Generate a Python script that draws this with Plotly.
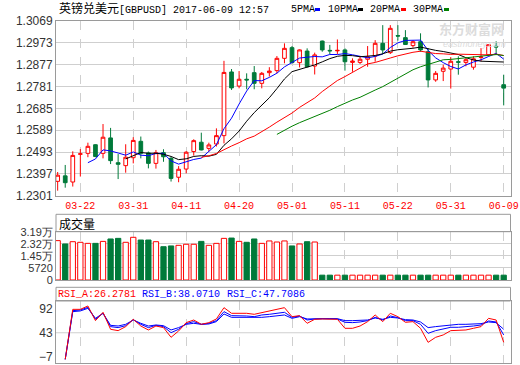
import plotly.graph_objects as go
import pandas as pd

# ---------------- data ----------------
dates = [
    "2017-03-17", "2017-03-20", "2017-03-21", "2017-03-22", "2017-03-23", "2017-03-24",
    "2017-03-27", "2017-03-28", "2017-03-29", "2017-03-30", "2017-03-31",
    "2017-04-03", "2017-04-04", "2017-04-05", "2017-04-06", "2017-04-07",
    "2017-04-10", "2017-04-11", "2017-04-12", "2017-04-13", "2017-04-14",
    "2017-04-17", "2017-04-18", "2017-04-19", "2017-04-20", "2017-04-21",
    "2017-04-24", "2017-04-25", "2017-04-26", "2017-04-27", "2017-04-28",
    "2017-05-01", "2017-05-02", "2017-05-03", "2017-05-04", "2017-05-05",
    "2017-05-09", "2017-05-10", "2017-05-11", "2017-05-12",
    "2017-05-15", "2017-05-16", "2017-05-17", "2017-05-18", "2017-05-19",
    "2017-05-22", "2017-05-23", "2017-05-24", "2017-05-25", "2017-05-26",
    "2017-05-29", "2017-05-30", "2017-05-31",
    "2017-06-01", "2017-06-02", "2017-06-05", "2017-06-06", "2017-06-07",
    "2017-06-08", "2017-06-09",
]
opens = [1.2364, 1.2388, 1.2361, 1.2483, 1.2487, 1.2525, 1.2487, 1.2555, 1.2446, 1.2433,
         1.2468, 1.2540, 1.2489, 1.2443, 1.2490, 1.2465, 1.2382, 1.2418, 1.2495, 1.2536,
         1.2509, 1.2528, 1.2565, 1.2845, 1.2783, 1.2813, 1.2842, 1.2795, 1.2842, 1.2851,
         1.2905, 1.2952, 1.2886, 1.2937, 1.2871, 1.2981, 1.2940, 1.2938, 1.2942, 1.2887,
         1.2887, 1.2901, 1.2915, 1.2971, 1.2930, 1.3005, 1.2996, 1.2961, 1.2978, 1.2934,
         1.2810, 1.2848, 1.2858, 1.2890, 1.2887, 1.2866, 1.2909, 1.2921, 1.2958, 1.2789]
highs = [1.2405, 1.2436, 1.2496, 1.2506, 1.2534, 1.2527, 1.2616, 1.2599, 1.2484, 1.2527,
         1.2558, 1.2561, 1.2495, 1.2502, 1.2505, 1.2473, 1.2431, 1.2497, 1.2549, 1.2578,
         1.2534, 1.2597, 1.2894, 1.2858, 1.2849, 1.2839, 1.2871, 1.2845, 1.2866, 1.2915,
         1.2971, 1.2959, 1.2944, 1.2949, 1.2930, 1.2983, 1.2964, 1.2988, 1.2949, 1.2905,
         1.2912, 1.2959, 1.2985, 1.3051, 1.3051, 1.3051, 1.3029, 1.2985, 1.3015, 1.2949,
         1.2849, 1.2877, 1.2910, 1.2914, 1.2911, 1.2914, 1.2950, 1.2968, 1.2980, 1.2833]
lows = [1.2323, 1.2336, 1.2341, 1.2385, 1.2470, 1.2470, 1.2465, 1.2440, 1.2374, 1.2402,
        1.2443, 1.2465, 1.2421, 1.2420, 1.2450, 1.2363, 1.2360, 1.2399, 1.2477, 1.2500,
        1.2495, 1.2517, 1.2531, 1.2766, 1.2773, 1.2769, 1.2769, 1.2773, 1.2825, 1.2839,
        1.2883, 1.2883, 1.2865, 1.2865, 1.2834, 1.2934, 1.2924, 1.2924, 1.2851, 1.2846,
        1.2880, 1.2868, 1.2890, 1.2924, 1.2924, 1.2983, 1.2964, 1.2952, 1.2934, 1.2777,
        1.2802, 1.2805, 1.2772, 1.2833, 1.2870, 1.2855, 1.2892, 1.2914, 1.2921, 1.2698]
closes = [1.2391, 1.2358, 1.2478, 1.2485, 1.2518, 1.2473, 1.2558, 1.2455, 1.2439, 1.2470,
          1.2544, 1.2487, 1.2443, 1.2490, 1.2472, 1.2377, 1.2417, 1.2492, 1.2543, 1.2502,
          1.2524, 1.2565, 1.2843, 1.2775, 1.2813, 1.2810, 1.2795, 1.2839, 1.2849, 1.2905,
          1.2949, 1.2886, 1.2942, 1.2868, 1.2920, 1.2942, 1.2938, 1.2940, 1.2890, 1.2893,
          1.2901, 1.2912, 1.2971, 1.2942, 1.3037, 1.3003, 1.2966, 1.2978, 1.2942, 1.2810,
          1.2839, 1.2862, 1.2892, 1.2888, 1.2899, 1.2903, 1.2911, 1.2965, 1.2955, 1.2774]
# volume in 万
volume_wan = [2.60, 2.38, 2.53, 2.49, 2.42, 2.42, 2.55, 2.71, 2.75, 2.49,
              2.82, 2.64, 2.64, 2.53, 2.20, 2.25, 2.29, 2.36, 2.36, 2.55,
              2.29, 2.42, 2.75, 2.77, 2.55, 2.49, 2.71, 2.42, 2.58, 2.51,
              2.58, 2.25, 2.38, 2.53, 2.51, 0.32, 0.32, 0.32, 0.32, 0.32,
              0.32, 0.32, 0.32, 0.32, 0.32, 0.32, 0.32, 0.32, 0.32, 0.32,
              0.32, 0.32, 0.32, 0.32, 0.32, 0.32, 0.32, 0.32, 0.32, 0.32]
rsi_a = [None, -12.5, 91.9, 91.9, 98.9, 68.3, 85.7, 50.2, 47.4, 55.8,
         71.1, 57.1, 48.8, 57.1, 53.7, 33.5, 46.7, 64.1, 69.6, 60.6,
         64.1, 71.8, 95.4, 83.6, 83.6, 83.6, 81.5, 85.0, 87.1, 90.5,
         95.4, 76.6, 78.7, 62.7, 71.1, 71.8, 71.1, 71.1, 52.3, 52.3,
         57.1, 66.2, 80.1, 66.2, 83.6, 76.6, 64.8, 66.2, 52.3, 23.0,
         33.5, 38.4, 47.4, 47.4, 48.8, 52.3, 55.8, 73.1, 69.6, 23.0]
rsi_b = [None, -12.5, 89.1, 90.5, 96.1, 71.1, 83.6, 55.8, 53.7, 57.8,
         70.4, 60.6, 53.7, 58.5, 55.8, 43.2, 50.2, 62.0, 66.2, 60.6,
         62.7, 68.3, 87.1, 78.7, 78.7, 78.0, 76.6, 80.1, 81.5, 83.6,
         85.7, 75.2, 78.0, 69.6, 71.8, 72.4, 71.8, 71.8, 64.8, 64.1,
         65.5, 68.3, 75.2, 69.6, 78.0, 74.5, 68.3, 68.3, 60.6, 41.8,
         47.4, 50.2, 54.4, 54.4, 55.0, 57.1, 59.2, 67.6, 65.5, 38.4]
rsi_c = [None, -12.5, 87.1, 88.5, 94.0, 73.1, 83.6, 58.5, 57.1, 60.6,
         69.6, 62.7, 57.1, 59.2, 57.8, 48.8, 53.7, 60.6, 62.7, 60.6,
         61.3, 66.2, 82.2, 75.2, 75.2, 74.5, 73.8, 75.2, 76.6, 78.0,
         80.1, 73.1, 76.6, 71.8, 72.4, 72.4, 72.4, 72.4, 68.3, 68.3,
         69.0, 69.6, 73.8, 71.1, 75.2, 73.8, 70.4, 69.6, 65.5, 53.7,
         55.8, 57.8, 59.9, 60.6, 60.6, 61.3, 62.0, 65.5, 64.1, 50.2]

price_ticks = [1.2301, 1.2397, 1.2493, 1.2589, 1.2685, 1.2781, 1.2877, 1.2973, 1.3069]
tick_dates = ["2017-03-22", "2017-03-31", "2017-04-11", "2017-04-20", "2017-05-01",
              "2017-05-11", "2017-05-22", "2017-05-31", "2017-06-09"]
vol_ticks = [0, 0.7975, 1.595, 2.3925, 3.19]
vol_tick_text = ["0", "5720", "1.45万", "2.32万", "3.19万"]
rsi_ticks = [92, 43, -7]
title_text = "英镑兑美元[GBPUSD] 2017-06-09 12:57"
rsi_labels = ["RSI_A:26.2781", "RSI_B:38.0710", "RSI_C:47.7086"]

# ---------------- derived ----------------
cs = pd.Series(closes)
def ma(n):
    return [None if pd.isna(v) else float(v) for v in cs.rolling(n).mean()]
ma5, ma10, ma20, ma30 = ma(5), ma(10), ma(20), ma(30)

RED = "#ff0000"
GREEN = "#007a3a"
BLUE = "#0000ff"
GRID = "#cfcfcf"
FRAME = "#9a9a9a"
TXT = "#333333"
W, H = 520, 365

def py(y):
    return 1 - y / H

def px(x):
    return x / W

xdom = [px(56), px(510.5)]
up = [c >= o for o, c in zip(opens, closes)]

fig = go.Figure()
fig.add_trace(go.Candlestick(
    x=dates, open=opens, high=highs, low=lows, close=closes,
    increasing=dict(line=dict(color=RED, width=1), fillcolor="#ffffff"),
    decreasing=dict(line=dict(color=GREEN, width=1), fillcolor=GREEN),
    whiskerwidth=0, xaxis="x", yaxis="y", showlegend=False, hoverinfo="skip"))
for vals, col in [(ma5, BLUE), (ma10, "#000000"), (ma20, RED), (ma30, "#008000")]:
    fig.add_trace(go.Scatter(x=dates, y=vals, mode="lines", line=dict(color=col, width=1),
                             xaxis="x", yaxis="y", showlegend=False, hoverinfo="skip"))

fig.add_trace(go.Bar(
    x=dates, y=volume_wan, width=0.7,
    marker=dict(color=["#ffffff" if u else GREEN for u in up],
                line=dict(color=[RED if u else GREEN for u in up], width=1)),
    xaxis="x2", yaxis="y2", showlegend=False, hoverinfo="skip"))

for vals, col in [(rsi_c, BLUE), (rsi_b, BLUE), (rsi_a, RED)]:
    fig.add_trace(go.Scatter(x=dates, y=vals, mode="lines", line=dict(color=col, width=1),
                             xaxis="x3", yaxis="y3", showlegend=False, hoverinfo="skip"))

xcommon = dict(type="category", range=[-0.22, 59.9], domain=xdom, automargin=False,
               tickvals=tick_dates, showgrid=True, gridcolor=GRID, griddash="dash",
               gridwidth=1, showline=True, mirror=True, linecolor=FRAME, linewidth=1,
               ticks="", zeroline=False, fixedrange=True)
ycommon = dict(showline=True, mirror=True, linecolor=FRAME, linewidth=1, ticks="",
               zeroline=False, gridcolor=GRID, gridwidth=1, fixedrange=True, automargin=False,
               tickfont=dict(family="Liberation Sans, Arial", size=12, color=TXT))

fig.update_layout(
    template="none",
    width=W, height=H, margin=dict(l=0, r=0, t=0, b=0, pad=0, autoexpand=False),
    paper_bgcolor="#ffffff", plot_bgcolor="#ffffff",
    xaxis=dict(**xcommon, anchor="y", ticktext=[d[5:] for d in tick_dates],
               ticklabeloverflow="allow",
               tickfont=dict(family="Liberation Mono, monospace", size=10, color=RED),
               rangeslider=dict(visible=False)),
    xaxis2=dict(**xcommon, anchor="y2", showticklabels=False, matches="x"),
    xaxis3=dict(**xcommon, anchor="y3", showticklabels=False, matches="x"),
    yaxis=dict(**ycommon, domain=[py(195.7), py(21)], range=[1.23008, 1.30692],
               tickvals=price_ticks, tickformat=".4f", showgrid=True),
    yaxis2=dict(**ycommon, domain=[py(280), py(231.7)], range=[0, 3.1901],
                tickvals=vol_ticks, ticktext=vol_tick_text, showgrid=True),
    yaxis3=dict(**ycommon, domain=[py(363.3), py(301)], range=[-20.8, 109.3],
                tickvals=rsi_ticks, showgrid=False),
    bargap=0.3,
)
fig.layout.yaxis2.tickfont.size = 11

shapes = [
    dict(type="rect", xref="paper", yref="paper", x0=xdom[0], x1=xdom[1],
         y0=py(231.7), y1=py(214.3), line=dict(color=FRAME, width=1)),
    dict(type="rect", xref="paper", yref="paper", x0=xdom[0], x1=xdom[1],
         y0=py(301), y1=py(287.3), line=dict(color=FRAME, width=1)),
    dict(type="line", xref="x3 domain", yref="y3", x0=0, x1=1, y0=43, y1=43,
         line=dict(color=GRID, width=1), layer="below"),
]
# MA legend swatches
for x0, col in [(315, BLUE), (358, "#000000"), (401, RED), (444, "#008000")]:
    shapes.append(dict(type="rect", xref="paper", yref="paper", x0=px(x0), x1=px(x0 + 5),
                       y0=py(11), y1=py(8), line=dict(width=0), fillcolor=col))
fig.update_layout(shapes=shapes)

mono = "Liberation Mono, monospace"
ann = [
    dict(x=px(57), y=py(9.5), text='<span style="font-size:12px">英镑兑美元</span>[GBPUSD] 2017-06-09 12:57',
         font=dict(family=mono + ", Noto Sans CJK SC", size=10, color="#000000")),
    dict(x=px(289), y=py(9.5), text="5PMA", font=dict(family=mono, size=10, color="#000000")),
    dict(x=px(326), y=py(9.5), text="10PMA", font=dict(family=mono, size=10, color="#000000")),
    dict(x=px(368), y=py(9.5), text="20PMA", font=dict(family=mono, size=10, color="#000000")),
    dict(x=px(411), y=py(9.5), text="30PMA", font=dict(family=mono, size=10, color="#000000")),
    dict(x=px(57), y=py(223), text="成交量",
         font=dict(family="Noto Sans CJK SC", size=12, color="#000000")),
    dict(x=px(56), y=py(294.3), text=rsi_labels[0], font=dict(family=mono, size=10, color=RED)),
    dict(x=px(140), y=py(294.3), text=rsi_labels[1], font=dict(family=mono, size=10, color=BLUE)),
    dict(x=px(225), y=py(294.3), text=rsi_labels[2], font=dict(family=mono, size=10, color=BLUE)),
    dict(x=px(437), y=py(28), text="<b>东方财富网</b>",
         font=dict(family="Noto Sans CJK SC", size=13, color="#dcdcdc")),
    dict(x=px(441), y=py(43.5), text="<i>eastmoney.com</i>",
         font=dict(family="Liberation Sans", size=9, color="#dcdcdc")),
]
for a in ann:
    a.update(xref="paper", yref="paper", xanchor="left", yanchor="middle", showarrow=False)
fig.update_layout(annotations=ann)

fig.write_html("out.html", config={"displayModeBar": False},
               post_script="document.body.style.margin='0px';document.body.style.overflow='hidden';")
